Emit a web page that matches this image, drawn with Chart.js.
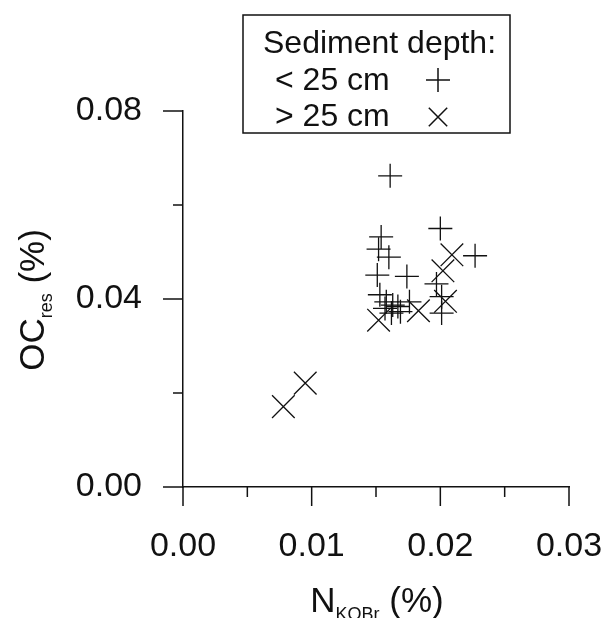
<!DOCTYPE html>
<html>
<head>
<meta charset="utf-8">
<script src="https://cdn.jsdelivr.net/npm/chart.js@4"></script>
<style>
    html, body { margin: 0; padding: 0; background: #fff; }
    #wrap { width: 607px; height: 618px; }
</style>
</head>
<body>
<div id="wrap"><canvas id="chartSedimento" width="607" height="618"></canvas></div>
<script>
// Datos
const shallowX = [0.0161, 0.0200, 0.0227, 0.0154, 0.0152, 0.0160, 0.0151, 0.0174, 0.0197, 0.0201,
                  0.0201, 0.0153, 0.0158, 0.0163, 0.0157, 0.0167, 0.0176, 0.0162, 0.0169];
const shallowY = [0.0662, 0.0550, 0.0492, 0.0532, 0.0506, 0.0489, 0.0451, 0.0448, 0.0432, 0.0405,
                  0.0370, 0.0409, 0.0394, 0.0387, 0.0380, 0.0384, 0.0394, 0.0370, 0.0373];
const deepX = [0.0209, 0.0202, 0.0204, 0.0183, 0.0152, 0.0095, 0.0078];
const deepY = [0.0494, 0.0460, 0.0395, 0.0375, 0.0355, 0.0221, 0.0171];

const xTicks = [0.000, 0.005, 0.010, 0.015, 0.020, 0.025, 0.030];
const xLabels = [0.00, 0.01, 0.02, 0.03];
const yTicks = [0.00, 0.02, 0.04, 0.06, 0.08];
const yLabels = [0.00, 0.04, 0.08];

const legendTitle = 'Sediment depth:';
const seriesNames = ['< 25 cm', '> 25 cm'];

const FONT = "'Liberation Sans', Arial, sans-serif";
const INK = '#111';

const toPoints = (xs, ys) => xs.map((x, i) => ({ x: x, y: ys[i] }));
const isLabel = (list, v) => list.some(l => Math.abs(l - v) < 1e-9);

// Marcas de los ejes (mayores y menores)
const ticksPlugin = {
    id: 'ticks',
    afterDraw(chart) {
        const ctx = chart.ctx;
        const xs = chart.scales.x, ys = chart.scales.y;
        const area = chart.chartArea;
        ctx.save();
        ctx.strokeStyle = INK;
        ctx.lineWidth = 1.5;
        xTicks.forEach(v => {
            const px = xs.getPixelForValue(v);
            const len = isLabel(xLabels, v) ? 19 : 10;
            ctx.beginPath();
            ctx.moveTo(px, area.bottom);
            ctx.lineTo(px, area.bottom + len);
            ctx.stroke();
        });
        yTicks.forEach(v => {
            const py = ys.getPixelForValue(v);
            const len = isLabel(yLabels, v) ? 20 : 10;
            ctx.beginPath();
            ctx.moveTo(area.left, py);
            ctx.lineTo(area.left - len, py);
            ctx.stroke();
        });
        ctx.restore();
    }
};

// Títulos de los ejes con subíndices
function drawSubTitle(ctx, main, sub, tail, size, subSize) {
    ctx.font = size + 'px ' + FONT;
    const w1 = ctx.measureText(main).width;
    const w3 = ctx.measureText(tail).width;
    ctx.font = subSize + 'px ' + FONT;
    const w2 = ctx.measureText(sub).width;
    const total = w1 + w2 + w3;
    let x = -total / 2;
    ctx.textBaseline = 'alphabetic';
    ctx.textAlign = 'left';
    ctx.font = size + 'px ' + FONT;
    ctx.fillText(main, x, 0);
    x += w1;
    ctx.font = subSize + 'px ' + FONT;
    ctx.fillText(sub, x, size * 0.22);
    x += w2;
    ctx.font = size + 'px ' + FONT;
    ctx.fillText(tail, x, 0);
}

const titlesPlugin = {
    id: 'titles',
    afterDraw(chart) {
        const ctx = chart.ctx;
        ctx.save();
        ctx.fillStyle = INK;
        ctx.translate(377, 612);
        drawSubTitle(ctx, 'N', 'KOBr', ' (%)', 35, 18);
        ctx.restore();

        ctx.save();
        ctx.fillStyle = INK;
        ctx.translate(44, 300);
        ctx.rotate(-Math.PI / 2);
        drawSubTitle(ctx, 'OC', 'res', ' (%)', 35, 18);
        ctx.restore();
    }
};

// Leyenda en caja con marcadores a la derecha
const legendPlugin = {
    id: 'boxLegend',
    afterDraw(chart) {
        const ctx = chart.ctx;
        ctx.save();
        ctx.strokeStyle = INK;
        ctx.lineWidth = 1.5;
        ctx.strokeRect(243, 15, 267, 118);
        ctx.fillStyle = INK;
        ctx.font = '32px ' + FONT;
        ctx.textBaseline = 'middle';
        ctx.textAlign = 'left';
        ctx.fillText(legendTitle, 263, 44);
        ctx.fillText(seriesNames[0], 275, 81);
        ctx.fillText(seriesNames[1], 275, 117);
        const styles = ['cross', 'crossRot'];
        const radii = [12, 13];
        styles.forEach((s, i) => {
            Chart.helpers.drawPoint(ctx, {
                pointStyle: s, radius: radii[i], rotation: 0, borderWidth: 1.2
            }, 438, i === 0 ? 80 : 117);
        });
        ctx.restore();
    }
};

const ctx = document.getElementById('chartSedimento');
new Chart(ctx, {
    type: 'scatter',
    data: {
        datasets: [{
            label: seriesNames[0],
            data: toPoints(shallowX, shallowY),
            pointStyle: 'cross',
            pointRadius: 12,
            borderColor: INK,
            borderWidth: 1.3,
            backgroundColor: INK
        }, {
            label: seriesNames[1],
            data: toPoints(deepX, deepY),
            pointStyle: 'crossRot',
            pointRadius: 16,
            borderColor: INK,
            borderWidth: 1.3,
            backgroundColor: INK
        }]
    },
    options: {
        responsive: false,
        animation: false,
        events: [],
        layout: { padding: { top: 111, right: 38, left: 0, bottom: 0 } },
        plugins: {
            legend: { display: false },
            tooltip: { enabled: false }
        },
        scales: {
            x: {
                type: 'linear',
                min: 0, max: 0.03,
                grid: { display: false, drawTicks: false },
                border: { display: true, color: INK, width: 1.5 },
                afterFit(scale) {
                    scale.height = 131;
                    scale.paddingLeft = 0;
                    scale.paddingRight = 0;
                },
                ticks: {
                    stepSize: 0.005,
                    autoSkip: false,
                    maxRotation: 0,
                    padding: 39,
                    color: INK,
                    font: { family: FONT, size: 34 },
                    callback: v => isLabel(xLabels, v) ? v.toFixed(2) : ''
                }
            },
            y: {
                type: 'linear',
                min: 0, max: 0.08,
                grid: { display: false, drawTicks: false },
                border: { display: true, color: INK, width: 1.5 },
                afterFit(scale) {
                    scale.width = 183;
                    scale.paddingTop = 0;
                    scale.paddingBottom = 0;
                },
                ticks: {
                    stepSize: 0.02,
                    autoSkip: false,
                    padding: 41,
                    color: INK,
                    font: { family: FONT, size: 34 },
                    callback: v => isLabel(yLabels, v) ? v.toFixed(2) : ''
                }
            }
        }
    },
    plugins: [ticksPlugin, titlesPlugin, legendPlugin]
});
</script>
</body>
</html>
